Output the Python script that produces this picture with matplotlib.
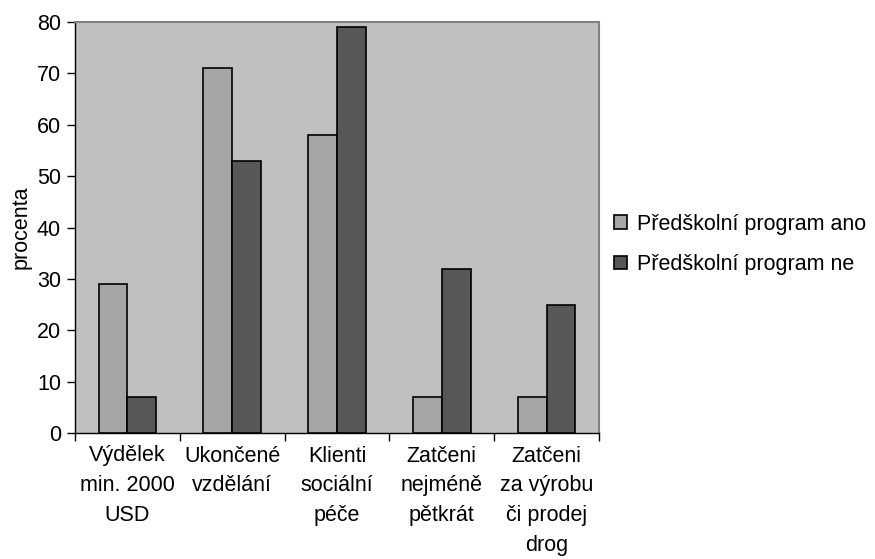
import matplotlib
matplotlib.use("Agg")
import matplotlib.pyplot as plt
import numpy as np

plt.rcParams['font.family'] = ['Liberation Sans', 'DejaVu Sans']

categories = ["Výdělek\nmin. 2000\nUSD", "Ukončené\nvzdělání", "Klienti\nsociální\npéče",
              "Zatčeni\nnejméně\npětkrát", "Zatčeni\nza výrobu\nči prodej\ndrog"]
series_names = ["Předškolní program ano", "Předškolní program ne"]
ano = [29, 71, 58, 7, 7]
ne = [7, 53, 79, 32, 25]
yticks = [0, 10, 20, 30, 40, 50, 60, 70, 80]

fs = 15.5
fig = plt.figure(figsize=(8.75, 5.59), dpi=100)
ax = fig.add_axes([75/875, 1-433/559, (599-75)/875, (433-22)/559])
ax.set_facecolor('#C0C0C0')

x = np.arange(len(categories)) + 0.5
w = 0.275
ax.bar(x - w/2, ano, w, color='#A6A6A6', edgecolor='black', linewidth=1.2, label=series_names[0], zorder=3)
ax.bar(x + w/2, ne, w, color='#575757', edgecolor='black', linewidth=1.2, label=series_names[1], zorder=3)

ax.set_xlim(0, len(categories))
ax.set_ylim(0, 80)
ax.set_yticks(yticks)
ax.set_xticks(np.arange(len(categories) + 1))
ax.set_xticklabels([])
ax.set_xticks(x, minor=True)
ax.set_xticklabels(categories, minor=True, fontsize=fs, linespacing=1.55)
ax.tick_params(axis='x', which='minor', length=0, pad=9)
ax.tick_params(axis='x', which='major', direction='out', length=6, width=1)
ax.tick_params(axis='y', direction='out', length=6, width=1, labelsize=fs, pad=4)

for s in ['top', 'right']:
    ax.spines[s].set_color('#808080')
    ax.spines[s].set_linewidth(1.5)
for s in ['left', 'bottom']:
    ax.spines[s].set_color('black')
    ax.spines[s].set_linewidth(1)

ax.set_ylabel('procenta', fontsize=fs, labelpad=4)

leg = ax.legend(loc='center left', bbox_to_anchor=(1.029, 0.4585), frameon=False, fontsize=fs,
                handlelength=0.6, handleheight=0.6, handletextpad=0.45, labelspacing=0.9,
                borderpad=0, borderaxespad=0)

fig.savefig('out.png', dpi=100)
